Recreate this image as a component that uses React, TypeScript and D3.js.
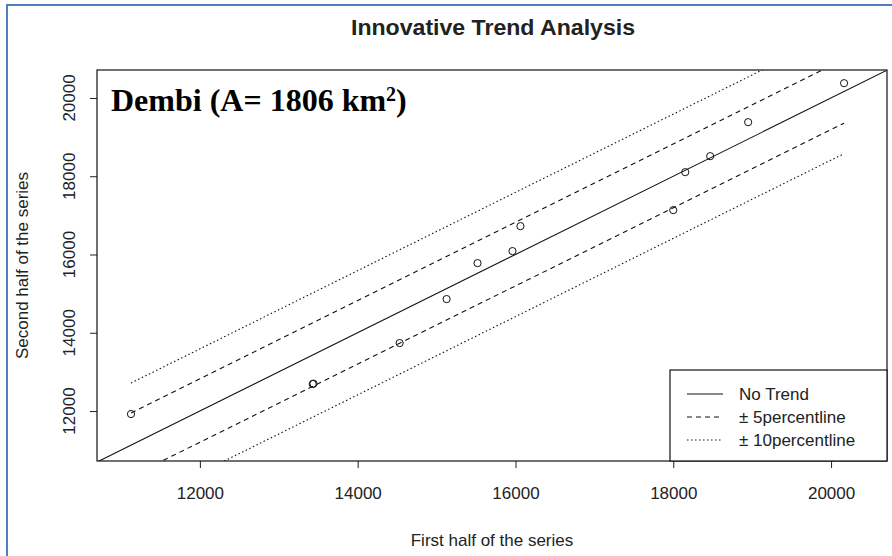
import React, { useEffect, useRef } from 'react';
import * as d3 from 'd3';

// values
const firstHalf = [11127, 13430, 13440, 14532, 15127, 15519, 15962, 16063, 18000, 18152, 18468, 18949, 20165];
const secondHalf = [11923, 12690, 12700, 13737, 14861, 15780, 16087, 16725, 17134, 18105, 18513, 19382, 20378];

const xTicks = [12000, 14000, 16000, 18000, 20000];
const yTicks = [12000, 14000, 16000, 18000, 20000];

// percentile band lines, [first half, second half] at both ends
const upper10 = [[11127, 12715], [20165, 21753]];
const upper5 = [[11127, 11950], [20165, 20988]];
const lower5 = [[11127, 10331], [20165, 19356]];
const lower10 = [[11127, 9540], [20165, 18578]];

const legendLabels = ['No Trend', '\u00B1 5percentline', '\u00B1 10percentline'];
const legendDash = ['none', '5,4', '1.5,2.5'];

const App = () => {
  const ref = useRef(null);

  useEffect(() => {
    document.body.style.margin = '0';
    const svg = d3.select(ref.current);
    svg.selectAll('*').remove();

    const left = 97, right = 887, top = 70, bottom = 461;
    const font = 'Liberation Sans, Arial, sans-serif';

    const x = d3.scaleLinear().domain([10696, 20709]).range([left, right]);
    const y = d3.scaleLinear().domain([10723, 20715]).range([bottom, top]);

    svg.append('rect').attr('width', 892).attr('height', 556).attr('fill', 'white');

    // frame of the pasted picture
    svg.append('path')
      .attr('d', 'M7,556 V5 H892')
      .attr('fill', 'none')
      .attr('stroke', '#4f7fc1')
      .attr('stroke-width', 2);

    svg.append('clipPath').attr('id', 'plotClip')
      .append('rect')
      .attr('x', left).attr('y', top)
      .attr('width', right - left).attr('height', bottom - top);

    const plot = svg.append('g').attr('clip-path', 'url(#plotClip)');
    const line = d3.line().x(d => x(d[0])).y(d => y(d[1]));

    // 1:1 line across the whole panel
    const dom = x.domain();
    plot.append('path')
      .attr('d', line([[dom[0], dom[0]], [dom[1], dom[1]]]))
      .attr('fill', 'none').attr('stroke', '#111').attr('stroke-width', 1.1);

    [upper5, lower5].forEach(l => {
      plot.append('path')
        .attr('d', line(l))
        .attr('fill', 'none').attr('stroke', '#111').attr('stroke-width', 1.1)
        .attr('stroke-dasharray', '5,4');
    });
    [upper10, lower10].forEach(l => {
      plot.append('path')
        .attr('d', line(l))
        .attr('fill', 'none').attr('stroke', '#111').attr('stroke-width', 1.1)
        .attr('stroke-dasharray', '1.5,2.5');
    });

    plot.selectAll('circle')
      .data(firstHalf)
      .enter()
      .append('circle')
      .attr('cx', d => x(d))
      .attr('cy', (d, i) => y(secondHalf[i]))
      .attr('r', 3.6)
      .attr('fill', 'none')
      .attr('stroke', '#111')
      .attr('stroke-width', 1);

    // x axis
    const xAxis = svg.append('g')
      .attr('transform', `translate(0,${bottom})`)
      .call(d3.axisBottom(x).tickValues(xTicks).tickSize(7).tickPadding(19).tickFormat(d3.format('d')));
    xAxis.select('.domain').remove();
    xAxis.selectAll('line').attr('stroke', '#222');
    xAxis.selectAll('text')
      .attr('font-family', font).attr('font-size', 17).attr('fill', '#222');

    // y axis, labels parallel to the axis as in R
    const yAxis = svg.append('g')
      .attr('transform', `translate(${left},0)`)
      .call(d3.axisLeft(y).tickValues(yTicks).tickSize(7).tickFormat(() => ''));
    yAxis.select('.domain').remove();
    yAxis.selectAll('line').attr('stroke', '#222');
    svg.append('g')
      .selectAll('text')
      .data(yTicks)
      .enter()
      .append('text')
      .attr('transform', d => `translate(75,${y(d)}) rotate(-90)`)
      .attr('text-anchor', 'middle')
      .attr('font-family', font).attr('font-size', 17).attr('fill', '#222')
      .text(d => d);

    // box
    svg.append('rect')
      .attr('x', left).attr('y', top)
      .attr('width', right - left).attr('height', bottom - top)
      .attr('fill', 'none').attr('stroke', '#111').attr('stroke-width', 1.2);

    svg.append('text')
      .attr('x', 493).attr('y', 35)
      .attr('text-anchor', 'middle')
      .attr('font-family', font).attr('font-weight', 'bold').attr('font-size', 22).attr('fill', '#222')
      .attr('textLength', 284).attr('lengthAdjust', 'spacingAndGlyphs')
      .text('Innovative Trend Analysis');

    svg.append('text')
      .attr('x', (left + right) / 2).attr('y', 546)
      .attr('text-anchor', 'middle')
      .attr('font-family', font).attr('font-size', 17).attr('fill', '#222')
      .text('First half of the series');

    svg.append('text')
      .attr('transform', `translate(28,${(top + bottom) / 2}) rotate(-90)`)
      .attr('text-anchor', 'middle')
      .attr('font-family', font).attr('font-size', 17).attr('fill', '#222')
      .text('Second half of the series');

    // station label
    const lab = svg.append('text')
      .attr('x', 111).attr('y', 111)
      .attr('font-family', 'Liberation Serif, Times New Roman, serif')
      .attr('font-weight', 'bold').attr('font-size', 32).attr('fill', '#000');
    lab.append('tspan').text('Dembi (A= 1806 km');
    lab.append('tspan').attr('font-size', 20).attr('dy', -10).text('2');
    lab.append('tspan').attr('dy', 10).text(')');

    // legend
    const lg = svg.append('g');
    lg.append('rect')
      .attr('x', 670).attr('y', 370)
      .attr('width', right - 670).attr('height', bottom - 370)
      .attr('fill', 'white').attr('stroke', '#111').attr('stroke-width', 1.2);
    const rows = lg.selectAll('g.row')
      .data(legendLabels)
      .enter()
      .append('g')
      .attr('class', 'row')
      .attr('transform', (d, i) => `translate(0,${394 + i * 23})`);
    rows.append('line')
      .attr('x1', 687).attr('x2', 723)
      .attr('stroke', '#111').attr('stroke-width', 1.1)
      .attr('stroke-dasharray', (d, i) => legendDash[i]);
    rows.append('text')
      .attr('x', 739).attr('dy', '0.35em')
      .attr('font-family', font).attr('font-size', 17).attr('fill', '#222')
      .text(d => d);
  }, []);

  return <svg ref={ref} width={892} height={556} style={{ display: 'block' }}></svg>;
};

export default App;
